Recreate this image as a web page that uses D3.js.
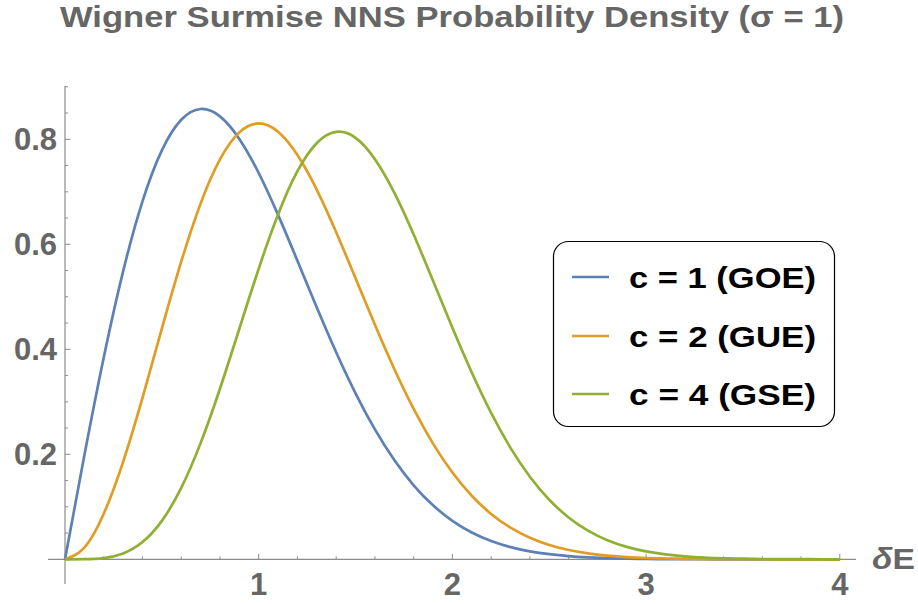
<!DOCTYPE html>
<html>
<head>
<meta charset="utf-8">
<script src="https://cdn.jsdelivr.net/npm/d3@7"></script>
<style>
  html, body { margin: 0; padding: 0; background: #fff; }
  svg { display: block; }
  text { font-family: "Liberation Sans", Arial, Helvetica, sans-serif; font-weight: bold; }
</style>
</head>
<body>
<svg id="chart" width="918" height="604"></svg>
<script>
// ---- data ----
const titleText = "Wigner Surmise NNS Probability Density (\u03C3 = 1)";
const xLabel = "\u03B4E";
const seriesNames = ["c = 1 (GOE)", "c = 2 (GUE)", "c = 4 (GSE)"];
const seriesColors = ["#5E81B5", "#E19C24", "#8FB032"];
const xValues = [0, 0.1, 0.2, 0.3, 0.4, 0.5, 0.6, 0.7, 0.8, 0.9,
  1.0, 1.1, 1.2, 1.3, 1.4, 1.5, 1.6, 1.7, 1.8, 1.9,
  2.0, 2.1, 2.2, 2.3, 2.4, 2.5, 2.6, 2.7, 2.8, 2.9,
  3.0, 3.1, 3.2, 3.3, 3.4, 3.5, 3.6, 3.7, 3.8, 3.9, 4.0];
const goeValues = [0, 0.198, 0.3843, 0.5484, 0.6817, 0.7788, 0.8372, 0.8577, 0.8437, 0.8007,
  0.7358, 0.6560, 0.5686, 0.4797, 0.3944, 0.3162, 0.2474, 0.1890, 0.1410, 0.1028,
  0.0733, 0.0511, 0.0348, 0.0232, 0.0151, 0.0097, 0.0060, 0.0037, 0.0022, 0.0013,
  0.0007, 0.0004, 0.0002, 0.0001, 0, 0, 0, 0, 0, 0, 0];
const gueValues = [0, 0.0223, 0.0867, 0.1856, 0.3077, 0.4394, 0.5668, 0.6775, 0.7616, 0.8132,
  0.8302, 0.8143, 0.7700, 0.7038, 0.6231, 0.5352, 0.4466, 0.3625, 0.2864, 0.2204,
  0.1653, 0.1210, 0.0864, 0.0602, 0.0410, 0.0272, 0.0177, 0.0112, 0.0070, 0.0042,
  0.0025, 0.0015, 0.0008, 0.0005, 0.0002, 0.0001, 0.0001, 0, 0, 0, 0];
const gseValues = [0, 0.00015, 0.0023, 0.0111, 0.0328, 0.0732, 0.1360, 0.2213, 0.3249, 0.4391,
  0.5535, 0.6569, 0.7392, 0.7929, 0.8141, 0.8028, 0.7622, 0.6984, 0.6185, 0.5304,
  0.4409, 0.3557, 0.2787, 0.2123, 0.1573, 0.1135, 0.0797, 0.0546, 0.0364, 0.0237,
  0.0150, 0.0093, 0.0056, 0.0033, 0.0019, 0.0011, 0.0006, 0.0003, 0.0002, 0.0001, 0];
const xMajorTicks = [1, 2, 3, 4];
const xMinorTicks = [0.2, 0.4, 0.6, 0.8, 1.2, 1.4, 1.6, 1.8, 2.2, 2.4, 2.6, 2.8, 3.2, 3.4, 3.6, 3.8];
const yMajorTicks = [0.2, 0.4, 0.6, 0.8];
const yMinorTicks = [0.05, 0.1, 0.15, 0.25, 0.3, 0.35, 0.45, 0.5, 0.55, 0.65, 0.7, 0.75, 0.85, 0.9];
const yTickLabels = ["0.2", "0.4", "0.6", "0.8"];
const xTickLabels = ["1", "2", "3", "4"];

// ---- layout ----
const svg = d3.select("#chart");
const textGray = "#666666";
const axisGray = "#8c8c8c";

const x = d3.scaleLinear().domain([0, 4]).range([65, 839.8]);
const y = d3.scaleLinear().domain([0, 0.8]).range([559.3, 139.3]);

// axes lines
svg.append("line").attr("x1", x(-0.088)).attr("x2", x(4.084))
  .attr("y1", y(0)).attr("y2", y(0)).attr("stroke", axisGray).attr("stroke-width", 1.2);
svg.append("line").attr("x1", x(0)).attr("x2", x(0))
  .attr("y1", y(-0.047)).attr("y2", y(0.9015)).attr("stroke", axisGray).attr("stroke-width", 1.2);

// ticks
const tickG = svg.append("g").attr("stroke", axisGray).attr("stroke-width", 1);
xMajorTicks.forEach(v => tickG.append("line").attr("x1", x(v)).attr("x2", x(v)).attr("y1", y(0)).attr("y2", y(0) - 5.5));
xMinorTicks.forEach(v => tickG.append("line").attr("x1", x(v)).attr("x2", x(v)).attr("y1", y(0)).attr("y2", y(0) - 3));
yMajorTicks.forEach(v => tickG.append("line").attr("y1", y(v)).attr("y2", y(v)).attr("x1", x(0)).attr("x2", x(0) + 5.5));
yMinorTicks.forEach(v => tickG.append("line").attr("y1", y(v)).attr("y2", y(v)).attr("x1", x(0)).attr("x2", x(0) + 3));

// tick labels
svg.append("g").selectAll("text").data(xMajorTicks).join("text")
  .attr("x", d => x(d)).attr("y", 595)
  .attr("text-anchor", "middle").attr("font-size", 31).attr("fill", textGray)
  .text((d, i) => xTickLabels[i]);
svg.append("g").selectAll("text").data(yMajorTicks).join("text")
  .attr("x", 57).attr("y", d => y(d) + 11)
  .attr("text-anchor", "end").attr("font-size", 31).attr("fill", textGray)
  .text((d, i) => yTickLabels[i]);

// axis label
const xl = svg.append("text").attr("x", 872).attr("y", 569)
  .attr("font-size", 30).attr("fill", textGray)
  .attr("textLength", 43).attr("lengthAdjust", "spacingAndGlyphs");
xl.append("tspan").attr("font-style", "italic").text(xLabel[0]);
xl.append("tspan").text(xLabel.slice(1));

// title
svg.append("text").attr("x", 60).attr("y", 27)
  .attr("font-size", 30).attr("fill", textGray)
  .attr("textLength", 784).attr("lengthAdjust", "spacingAndGlyphs")
  .text(titleText);

// curves
const allSeries = [goeValues, gueValues, gseValues];
const line = d3.line()
  .x((d, i) => x(xValues[i]))
  .y(d => y(d))
  .curve(d3.curveNatural);
allSeries.forEach((vals, k) => {
  svg.append("path").datum(vals)
    .attr("d", line)
    .attr("fill", "none")
    .attr("stroke", seriesColors[k])
    .attr("stroke-width", 2.7)
    .attr("stroke-linejoin", "round");
});

// legend
const lg = svg.append("g");
lg.append("rect").attr("x", 553.5).attr("y", 241.5).attr("width", 281).attr("height", 185)
  .attr("rx", 15).attr("ry", 15).attr("fill", "#fff").attr("stroke", "#000").attr("stroke-width", 1.2);
const legendRows = [277, 336, 394];
seriesNames.forEach((name, k) => {
  lg.append("line").attr("x1", 572).attr("x2", 609)
    .attr("y1", legendRows[k]).attr("y2", legendRows[k])
    .attr("stroke", seriesColors[k]).attr("stroke-width", 2.7);
  lg.append("text").attr("x", 629).attr("y", legendRows[k] + 11)
    .attr("font-size", 30).attr("fill", "#000")
    .attr("textLength", 187).attr("lengthAdjust", "spacingAndGlyphs")
    .text(name);
});
</script>
</body>
</html>
